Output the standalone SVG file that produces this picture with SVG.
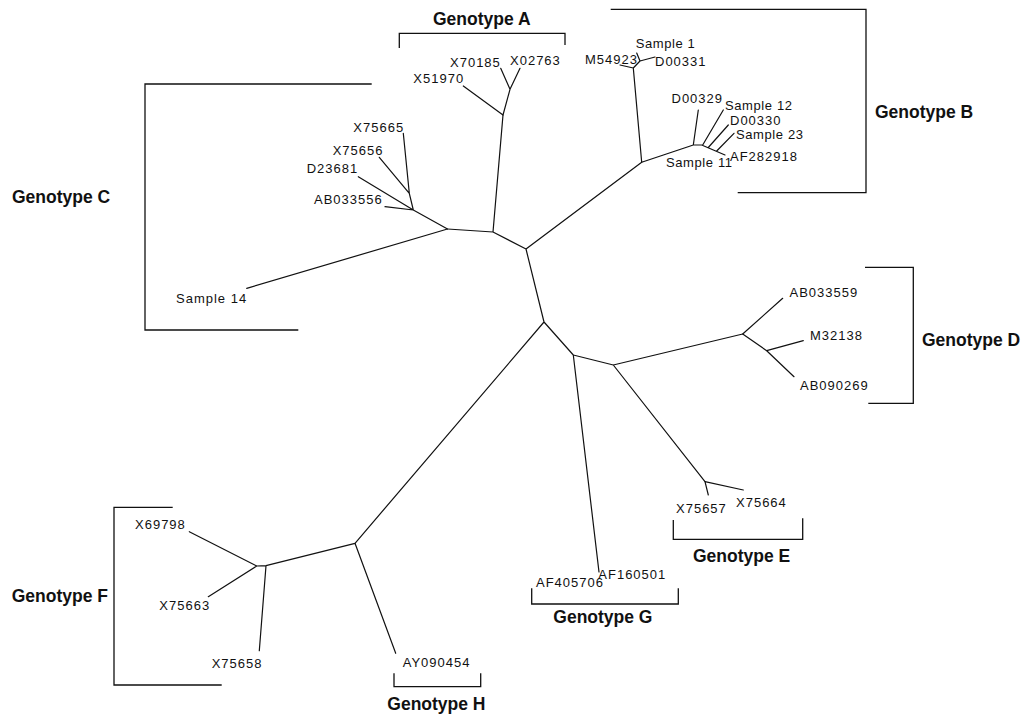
<svg xmlns="http://www.w3.org/2000/svg" width="1024" height="716" viewBox="0 0 1024 716">
<style>
.br{fill:none;stroke:#111;stroke-width:1.2;stroke-linecap:round;stroke-linejoin:round}
.bk{fill:none;stroke:#111;stroke-width:1.3}
.lb{font-family:"Liberation Sans",Arial,sans-serif;font-size:13px;letter-spacing:1px;fill:#111}
.sm{letter-spacing:0.6px}
.gt{font-family:"Liberation Sans",Arial,sans-serif;font-size:17.5px;font-weight:bold;fill:#111}
</style>
<rect width="1024" height="716" fill="#fff"/>
<g id="connectors" class="br">
<path d="M493,232 L526,249 M493,232 L447.5,229 M493,232 L503,115 M526,249 L641.7,162.3 M526,249 L544,322 M544,322 L355,543.3 M544,322 L573.3,355 M573.3,355 L613.3,365 M573.3,355 L599,572 M613.3,365 L742.7,334 M613.3,365 L705,481.7"/>
<path d="M503,115 L463.3,86 M503,115 L510,89.3 L500.7,68.3 M510,89.3 L520,68.3"/>
<path d="M641.7,162.3 L633.3,68 L620,65 M633.3,68 L640,61 L636.7,53 M640,61 L655,57 M641.7,162.3 L693.3,145 L698.3,110 M693.3,145 L701.7,145 L725,155 M702.7,145 L723.3,110 M708.3,147.5 L728.3,125 M716.7,151 L734,133.3"/>
<path d="M447.5,229 L413.3,210 L409.3,193.3 L403.3,133.3 M409.3,193.3 L379.3,157.3 M413.3,210 L358.3,176.7 M413.3,210 L385,206.7 M447.5,229 L246.7,288.3"/>
<path d="M742.7,334 L782.7,298.3 M742.7,334 L766.7,350.7 L794,376.7 M766.7,350.7 L803.3,340.7"/>
<path d="M705,481.7 L708.3,495 M705,481.7 L743.3,490"/>
<path d="M355,543.3 L266,565.7 L256.7,566 L189.3,531.7 M256.7,566 L208.3,596.7 M266,565.7 L259.3,650.7 M355,543.3 L395.7,653.3"/>
</g>
<g id="genotype-A"><path class="bk" d="M399.3,48 V33.3 H565 V45"/><text class="gt" x="433" y="25">Genotype A</text></g>
<g id="genotype-B"><path class="bk" d="M610.7,9.3 H866 V192.7 H737.7"/><text class="gt" x="875" y="118">Genotype B</text></g>
<g id="genotype-C"><path class="bk" d="M371.7,84 H145 V330 H298.3"/><text class="gt" x="12" y="203">Genotype C</text></g>
<g id="genotype-D"><path class="bk" d="M865,267.3 H913.3 V403.3 H868.3"/><text class="gt" x="922" y="346">Genotype D</text></g>
<g id="genotype-E"><path class="bk" d="M673.3,520 V539.3 H802.7 V518.3"/><text class="gt" x="693" y="561.7">Genotype E</text></g>
<g id="genotype-F"><path class="bk" d="M172.7,507.3 H114 V685 H221.7"/><text class="gt" x="11.7" y="601.7">Genotype F</text></g>
<g id="genotype-G"><path class="bk" d="M531.7,588.3 V604 H678.3 V588.3"/><text class="gt" x="553.3" y="623.3">Genotype G</text></g>
<g id="genotype-H"><path class="bk" d="M394,673.3 V686.7 H480.7 V673.3"/><text class="gt" x="387.3" y="710">Genotype H</text></g>
<g id="X70185"><text class="lb" x="450" y="66.7">X70185</text></g>
<g id="X02763"><text class="lb" x="510" y="65">X02763</text></g>
<g id="X51970"><text class="lb" x="413.3" y="83.3">X51970</text></g>
<g id="Sample1"><text class="lb sm" x="635.7" y="48">Sample 1</text></g>
<g id="M54923"><text class="lb" x="585" y="64">M54923</text></g>
<g id="D00331"><text class="lb" x="655" y="65.5">D00331</text></g>
<g id="D00329"><text class="lb" x="671.5" y="102.5">D00329</text></g>
<g id="Sample12"><text class="lb sm" x="725" y="109.8">Sample 12</text></g>
<g id="D00330"><text class="lb" x="730" y="124.6">D00330</text></g>
<g id="Sample23"><text class="lb sm" x="736" y="139.3">Sample 23</text></g>
<g id="AF282918"><text class="lb" x="730" y="160.5">AF282918</text></g>
<g id="Sample11"><text class="lb sm" x="666" y="166.5">Sample 11</text></g>
<g id="X75665"><text class="lb" x="353.3" y="131.7">X75665</text></g>
<g id="X75656"><text class="lb" x="332.7" y="155">X75656</text></g>
<g id="D23681"><text class="lb" x="306.7" y="173.3">D23681</text></g>
<g id="AB033556"><text class="lb" x="314" y="204">AB033556</text></g>
<g id="Sample14"><text class="lb" x="176" y="302.7">Sample 14</text></g>
<g id="AB033559"><text class="lb" x="789.5" y="297.3">AB033559</text></g>
<g id="M32138"><text class="lb" x="810" y="340">M32138</text></g>
<g id="AB090269"><text class="lb" x="800" y="390">AB090269</text></g>
<g id="X75657"><text class="lb" x="676" y="512.7">X75657</text></g>
<g id="X75664"><text class="lb" x="736" y="506.7">X75664</text></g>
<g id="AF405706"><text class="lb" x="536" y="586.7">AF405706</text></g>
<g id="AF160501"><text class="lb" x="598.3" y="579.3">AF160501</text></g>
<g id="X69798"><text class="lb" x="135" y="529.3">X69798</text></g>
<g id="X75663"><text class="lb" x="159.3" y="610">X75663</text></g>
<g id="X75658"><text class="lb" x="211.7" y="668.3">X75658</text></g>
<g id="AY090454"><text class="lb" x="402.7" y="666.7">AY090454</text></g>
</svg>
